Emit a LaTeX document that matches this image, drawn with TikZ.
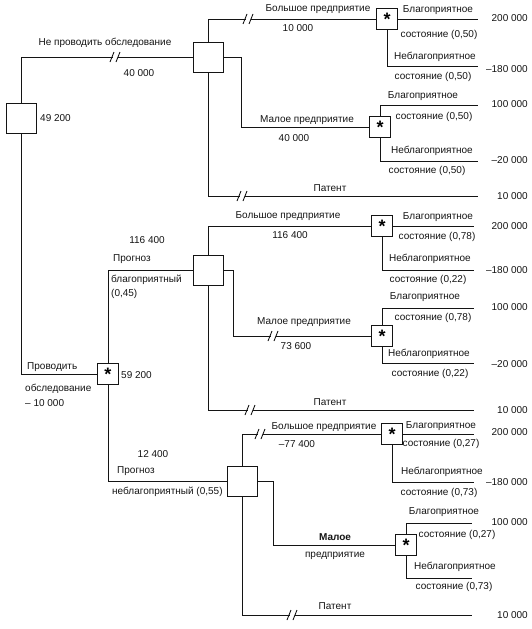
\documentclass[tikz,border=0pt]{standalone}
\usepackage{fontspec}
\setmainfont{Liberation Sans}
\usetikzlibrary{positioning,calc}
\definecolor{Ink}{RGB}{20,20,20}
\tikzset{
  decision/.style={draw=Ink,line width=0.95pt,minimum size=30pt,inner sep=0pt},
  chance/.style={draw=Ink,line width=0.95pt,minimum size=21pt,inner sep=0pt,font=\fontsize{18}{18}\selectfont\bfseries},
  branchpath/.style={draw=Ink,line width=0.9pt},
  branchlabel/.style={inner sep=0pt,text=Ink,font=\fontsize{10}{12}\selectfont},
  payoff/.style={branchlabel,anchor=east},
  cut/.pic={\fill[white] (-2.5,-2) rectangle (2.5,2);
            \draw[branchpath] (-5,5)--(-1,-5) (1,5)--(5,-5);}
}

\begin{document}
\begin{tikzpicture}[x=1pt,y=-1pt]
\useasboundingbox (0,0) rectangle (531,629);
% decision and chance points
\node[decision] (d0) at (21,118) {};
\node[decision] (d1) at (208,57) {};
\node[decision] (d2) at (208,270) {};
\node[decision] (d3) at (242,481) {};
\node[chance] (c0) at (108,374) {\raisebox{-0.28em}{*}};
\node[chance] (c1) at (387,19) {\raisebox{-0.28em}{*}};
\node[chance] (c2) at (380,127) {\raisebox{-0.28em}{*}};
\node[chance] (c3) at (382,226) {\raisebox{-0.28em}{*}};
\node[chance] (c4) at (382,336) {\raisebox{-0.28em}{*}};
\node[chance] (c5) at (392,434) {\raisebox{-0.28em}{*}};
\node[chance] (c6) at (406,545) {\raisebox{-0.28em}{*}};

% ends of the branches
\coordinate (e1a) at (478,19);
\coordinate (e1b) at (478,66);
\coordinate (e2a) at (478,105);
\coordinate (e2b) at (478,161);
\coordinate (e1p) at (478,196);
\coordinate (e3a) at (474,226);
\coordinate (e3b) at (474,270);
\coordinate (e4a) at (474,308);
\coordinate (e4b) at (474,363);
\coordinate (e2p) at (474,410);
\coordinate (e5a) at (474,434);
\coordinate (e5b) at (474,482);
\coordinate (e6a) at (472,523);
\coordinate (e6b) at (472,578);
\coordinate (e3p) at (472,615);

\draw[branchpath] (d0.north) |- (d1.west);
\draw[branchpath] (d0.south) |- (c0.west);
\draw[branchpath] (d1.north) |- (c1.west);
\draw[branchpath] (d1.east) -- ++(18,0) |- (c2.west);
\draw[branchpath] (d1.south) |- (e1p);
\draw[branchpath] (c1.east) -- (e1a);
\draw[branchpath] (c1.south) |- (e1b);
\draw[branchpath] (c2.north) |- (e2a);
\draw[branchpath] (c2.south) |- (e2b);
\draw[branchpath] (c0.north) |- (d2.west);
\draw[branchpath] (c0.south) |- (d3.west);
\draw[branchpath] (d2.north) |- (c3.west);
\draw[branchpath] (d2.east) -- ++(10,0) |- (c4.west);
\draw[branchpath] (d2.south) |- (e2p);
\draw[branchpath] (c3.east) -- (e3a);
\draw[branchpath] (c3.south) |- (e3b);
\draw[branchpath] (c4.north) |- (e4a);
\draw[branchpath] (c4.south) |- (e4b);
\draw[branchpath] (d3.north) |- (c5.west);
\draw[branchpath] (d3.east) -- ++(16,0) |- (c6.west);
\draw[branchpath] (d3.south) |- (e3p);
\draw[branchpath] (c5.east) -- (e5a);
\draw[branchpath] (c5.south) |- (e5b);
\draw[branchpath] (c6.north) |- (e6a);
\draw[branchpath] (c6.south) |- (e6b);

% cut branches
\pic at (115,57) {cut};
\pic at (248,19) {cut};
\pic at (242,196) {cut};
\pic at (273,336) {cut};
\pic at (250,410) {cut};
\pic at (260,434) {cut};
\pic at (292,615) {cut};

% labels
\node[branchlabel,anchor=west] (v0) at (40,118) {49 200};
\node[branchlabel] (t1) at (105,43) {Не проводить обследование};
\node[branchlabel] (t2) at (139,73) {40 000};
\node[branchlabel] (t3) at (318,9) {Большое предприятие};
\node[branchlabel] (t4) at (298,28) {10 000};
\node[branchlabel] (t5) at (438,10) {Благоприятное};
\node[branchlabel] (t6) at (439,35) {состояние (0,50)};
\node[branchlabel] (t7) at (435,57) {Неблагоприятное};
\node[branchlabel] (t8) at (433,77) {состояние (0,50)};
\node[branchlabel] (t9) at (307,120) {Малое предприятие};
\node[branchlabel] (t10) at (294,138) {40 000};
\node[branchlabel] (t11) at (423,96) {Благоприятное};
\node[branchlabel] (t12) at (434,117) {состояние (0,50)};
\node[branchlabel] (t13) at (432,151) {Неблагоприятное};
\node[branchlabel] (t14) at (427,171) {состояние (0,50)};
\node[branchlabel] (t15) at (330,188) {Патент};
\node[payoff] (p1) at (528,18) {200 000};
\node[payoff] (p2) at (528,69) {–180 000};
\node[payoff] (p3) at (528,104) {100 000};
\node[payoff] (p4) at (528,160) {–20 000};
\node[payoff] (p5) at (528,196) {10 000};

\node[branchlabel] (t16) at (147,240) {116 400};
\node[branchlabel,anchor=west] (t17) at (113,259) {Прогноз};
\node[branchlabel,anchor=west] (t18) at (111,280) {благоприятный};
\node[branchlabel,anchor=west] (t19) at (111,294) {(0,45)};
\node[branchlabel] (t20) at (288,216) {Большое предприятие};
\node[branchlabel] (t21) at (290,235) {116 400};
\node[branchlabel] (t22) at (438,217) {Благоприятное};
\node[branchlabel] (t23) at (437,237) {состояние (0,78)};
\node[branchlabel] (t24) at (430,259) {Неблагоприятное};
\node[branchlabel] (t25) at (428,280) {состояние (0,22)};
\node[branchlabel] (t26) at (304,322) {Малое предприятие};
\node[branchlabel] (t27) at (296,346) {73 600};
\node[branchlabel] (t28) at (425,297) {Благоприятное};
\node[branchlabel] (t29) at (433,318) {состояние (0,78)};
\node[branchlabel] (t30) at (429,354) {Неблагоприятное};
\node[branchlabel] (t31) at (430,374) {состояние (0,22)};
\node[branchlabel] (t32) at (330,402) {Патент};
\node[payoff] (p6) at (528,226) {200 000};
\node[payoff] (p7) at (528,270) {–180 000};
\node[payoff] (p8) at (528,307) {100 000};
\node[payoff] (p9) at (528,364) {–20 000};
\node[payoff] (p10) at (528,410) {10 000};

\node[branchlabel,anchor=west] (t33) at (27,367) {Проводить};
\node[branchlabel,anchor=west] (t34) at (25,389) {обследование};
\node[branchlabel,anchor=west] (t35) at (25,403) {– 10 000};
\node[branchlabel,anchor=west] (v1) at (121,375) {59 200};

\node[branchlabel] (t36) at (153,454) {12 400};
\node[branchlabel,anchor=west] (t37) at (117,471) {Прогноз};
\node[branchlabel,anchor=west] (t38) at (112,492) {неблагоприятный (0,55)};
\node[branchlabel] (t39) at (324,427) {Большое предприятие};
\node[branchlabel] (t40) at (297,444) {–77 400};
\node[branchlabel] (t41) at (441,426) {Благоприятное};
\node[branchlabel] (t42) at (441,444) {состояние (0,27)};
\node[branchlabel] (t43) at (442,472) {Неблагоприятное};
\node[branchlabel] (t44) at (439,493) {состояние (0,73)};
\node[branchlabel,font=\fontsize{10}{12}\selectfont\bfseries] (t45) at (335,537) {Малое};
\node[branchlabel] (t46) at (335,556) {предприятие};
\node[branchlabel] (t47) at (444,512) {Благоприятное};
\node[branchlabel] (t48) at (457,535) {состояние (0,27)};
\node[branchlabel] (t49) at (455,567) {Неблагоприятное};
\node[branchlabel] (t50) at (454,587) {состояние (0,73)};
\node[branchlabel] (t51) at (335,606) {Патент};
\node[payoff] (p11) at (528,432) {200 000};
\node[payoff] (p12) at (528,482) {–180 000};
\node[payoff] (p13) at (528,522) {100 000};
\node[payoff] (p14) at (528,615) {10 000};
\end{tikzpicture}
\end{document}
